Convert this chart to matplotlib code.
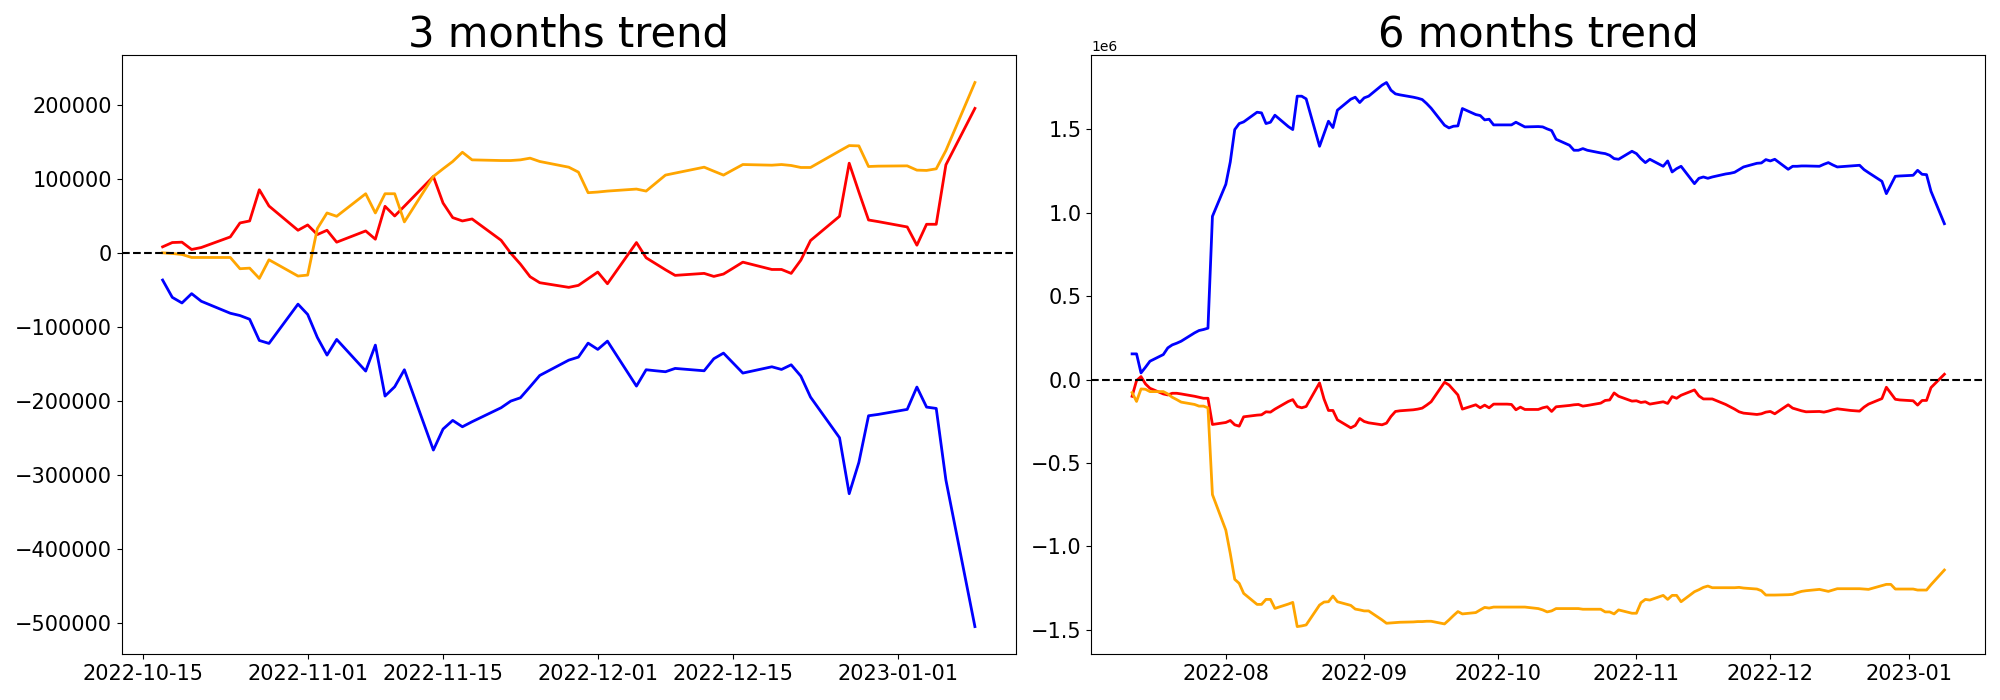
import numpy as np
import pandas as pd
import matplotlib
matplotlib.use("Agg")
import matplotlib.pyplot as plt

# trading days shown in each panel
dates_3m = pd.bdate_range("2022-10-17", "2023-01-09")
dates_6m = pd.bdate_range("2022-07-11", "2023-01-09")

# 3 months trend (change since 2022-10-14)
blue_3m = [-36800, -60200, -67800, -55200, -65500,
           -81700, -84800, -89800, -118500, -122500,
           -69400, -83300, -114400, -138300, -117100,
           -159900, -124800, -193700, -181100, -158100,
           -266700, -238300, -226600, -235200, -228400,
           -209500, -200500, -196000, -181100, -165800,
           -145100, -141000, -122100, -130600, -119400,
           -180200, -158100, -159500, -160800, -156300,
           -159500, -143200, -135600, -149100, -162600,
           -154100, -157700, -151400, -166700, -195100,
           -250000, -325700, -283400, -220300, -218500,
           -211700, -181500, -208600, -210400, -307200,
           -505400]
red_3m = [8100, 13900, 14400, 4500, 7200,
          21500, 40400, 43100, 85300, 63300,
          30500, 37700, 24700, 30500, 14400,
          29600, 18400, 62900, 49800, 63000,
          103200, 67300, 47600, 43100, 45800,
          17000, -500, -15300, -32300, -40400,
          -46700, -44000, -35000, -26000, -41800,
          13900, -6700, -14800, -22900, -30500,
          -27800, -31900, -28700, -20700, -12600,
          -22500, -22500, -27800, -9900, 16600,
          49400, 121200, 82200, 44400, 42200,
          35000, 10300, 38600, 38600, 119000,
          195300]
orange_3m = [0, -900, -2200, -6300, -6300,
             -6300, -21500, -20700, -34600, -9400,
             -31400, -30100, 32800, 53900, 49400,
             79900, 53900, 79900, 79900, 41800,
             103300, 113600, 123500, 136000, 125700,
             124800, 124800, 125700, 128000, 123500,
             115800, 109100, 81300, 82200, 83500,
             86200, 83500, 94300, 105100, 107800,
             115800, 110400, 105100, 112300, 119400,
             118500, 119400, 118100, 115400, 115400,
             137700, 145000, 144600, 116700, 117200,
             117600, 111800, 111400, 113600, 138300,
             230300]

# 6 months trend, in millions
blue_6m = [0.154, 0.154, 0.040, 0.074, 0.110,
           0.150, 0.190, 0.208, 0.218, 0.230,
           0.280, 0.294, 0.300, 0.308, 0.978,
           1.170, 1.304, 1.498, 1.534, 1.544,
           1.602, 1.598, 1.534, 1.542, 1.584,
           1.516, 1.498, 1.698, 1.698, 1.682,
           1.398, 1.474, 1.548, 1.510, 1.614,
           1.680, 1.692, 1.660, 1.688, 1.698,
           1.764, 1.780, 1.734, 1.712, 1.706,
           1.692, 1.686, 1.678, 1.654, 1.626,
           1.524, 1.508, 1.518, 1.520, 1.624,
           1.588, 1.582, 1.556, 1.560, 1.526,
           1.526, 1.526, 1.542, 1.528, 1.514,
           1.516, 1.514, 1.502, 1.492, 1.440,
           1.404, 1.374, 1.374, 1.384, 1.374,
           1.358, 1.354, 1.344, 1.324, 1.320,
           1.368, 1.354, 1.324, 1.300, 1.320,
           1.278, 1.310, 1.244, 1.264, 1.278,
           1.174, 1.206, 1.214, 1.206, 1.214,
           1.232, 1.236, 1.242, 1.258, 1.274,
           1.296, 1.298, 1.318, 1.310, 1.320,
           1.260, 1.278, 1.278, 1.280, 1.280,
           1.278, 1.290, 1.300, 1.286, 1.274,
           1.280, 1.282, 1.284, 1.258, 1.240,
           1.188, 1.114, 1.166, 1.218, 1.220,
           1.224, 1.254, 1.230, 1.228, 1.128,
           0.934]
red_6m = [-0.100, -0.006, 0.018, -0.026, -0.052,
          -0.086, -0.092, -0.082, -0.082, -0.086,
          -0.100, -0.106, -0.112, -0.112, -0.269,
          -0.257, -0.245, -0.271, -0.279, -0.223,
          -0.213, -0.211, -0.193, -0.195, -0.177,
          -0.131, -0.120, -0.161, -0.169, -0.161,
          -0.020, -0.116, -0.185, -0.185, -0.241,
          -0.289, -0.275, -0.233, -0.251, -0.259,
          -0.271, -0.261, -0.221, -0.191, -0.187,
          -0.181, -0.177, -0.171, -0.153, -0.133,
          -0.016, -0.032, -0.062, -0.092, -0.177,
          -0.151, -0.169, -0.153, -0.169, -0.147,
          -0.147, -0.149, -0.181, -0.165, -0.179,
          -0.179, -0.169, -0.163, -0.191, -0.163,
          -0.155, -0.151, -0.149, -0.159, -0.155,
          -0.141, -0.125, -0.122, -0.080, -0.100,
          -0.129, -0.127, -0.137, -0.133, -0.147,
          -0.133, -0.143, -0.102, -0.112, -0.094,
          -0.062, -0.098, -0.116, -0.116, -0.116,
          -0.149, -0.163, -0.177, -0.193, -0.201,
          -0.209, -0.205, -0.195, -0.191, -0.205,
          -0.151, -0.171, -0.179, -0.187, -0.193,
          -0.191, -0.195, -0.189, -0.181, -0.175,
          -0.185, -0.187, -0.189, -0.165, -0.147,
          -0.114, -0.046, -0.082, -0.118, -0.122,
          -0.127, -0.153, -0.125, -0.125, -0.048,
          0.032]
orange_6m = [-0.078, -0.131, -0.056, -0.058, -0.072,
             -0.072, -0.086, -0.106, -0.120, -0.135,
             -0.149, -0.159, -0.159, -0.169, -0.689,
             -0.902, -1.042, -1.197, -1.221, -1.281,
             -1.347, -1.347, -1.317, -1.317, -1.371,
             -1.345, -1.335, -1.480, -1.476, -1.470,
             -1.351, -1.333, -1.331, -1.297, -1.331,
             -1.353, -1.375, -1.380, -1.386, -1.386,
             -1.440, -1.460, -1.458, -1.456, -1.454,
             -1.452, -1.450, -1.450, -1.448, -1.448,
             -1.464, -1.440, -1.414, -1.390, -1.404,
             -1.396, -1.380, -1.365, -1.369, -1.363,
             -1.363, -1.363, -1.363, -1.363, -1.363,
             -1.372, -1.380, -1.392, -1.386, -1.372,
             -1.372, -1.372, -1.372, -1.376, -1.376,
             -1.376, -1.392, -1.392, -1.404, -1.380,
             -1.400, -1.400, -1.337, -1.317, -1.321,
             -1.293, -1.317, -1.293, -1.293, -1.331,
             -1.271, -1.259, -1.245, -1.237, -1.247,
             -1.247, -1.247, -1.247, -1.245, -1.249,
             -1.255, -1.265, -1.291, -1.291, -1.291,
             -1.289, -1.287, -1.277, -1.269, -1.265,
             -1.257, -1.263, -1.269, -1.261, -1.253,
             -1.253, -1.253, -1.253, -1.255, -1.257,
             -1.235, -1.227, -1.227, -1.255, -1.255,
             -1.255, -1.261, -1.261, -1.261, -1.229,
             -1.141]


# draw one trend panel
def drawTrend(ax, dates, blue, red, orange, title):
    ax.plot(dates, blue, color='blue', linewidth=2)
    ax.plot(dates, red, color='red', linewidth=2)
    ax.plot(dates, orange, color='orange', linewidth=2)
    ax.axhline(0, color='black', linestyle='--', linewidth=1.5)
    ax.set_title(title, fontsize=30)
    ax.tick_params(axis='both', labelsize=15)
    ax.yaxis.get_offset_text().set_fontsize(10)


fig, axes = plt.subplots(1, 2, figsize=(20, 7), dpi=100)
drawTrend(axes[0], dates_3m, blue_3m, red_3m, orange_3m, "3 months trend")
drawTrend(axes[1], dates_6m, np.array(blue_6m) * 1e6, np.array(red_6m) * 1e6,
          np.array(orange_6m) * 1e6, "6 months trend")
fig.subplots_adjust(left=0.061, right=0.9925, bottom=0.066, top=0.921, wspace=0.085)
fig.savefig("out.png")
